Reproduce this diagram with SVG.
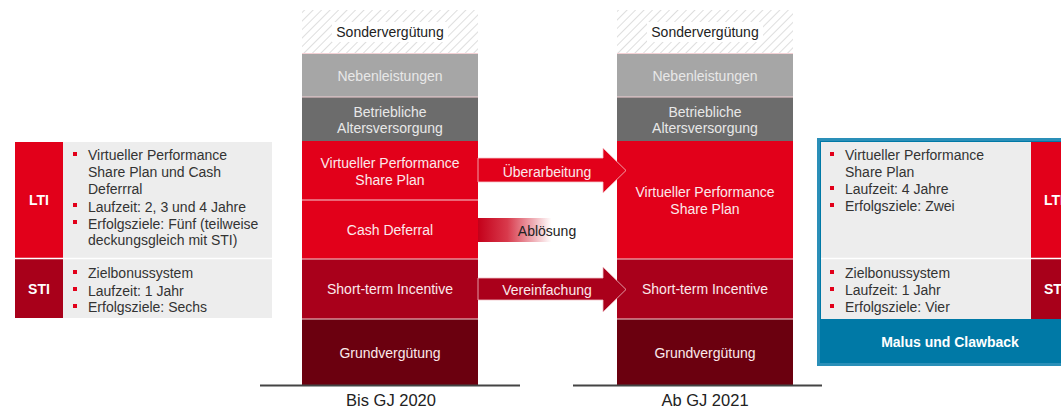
<svg xmlns="http://www.w3.org/2000/svg" width="1061" height="410" viewBox="0 0 1061 410">
  <style>
    text { font-family: "Liberation Sans", Arial, sans-serif; }
    .seg { font-size: 14px; fill: #fbe9eb; text-anchor: middle; }
    .gseg { font-size: 14px; fill: #e8e8e8; text-anchor: middle; }
    .dark { font-size: 14px; fill: #222; text-anchor: middle; }
    .bul { font-size: 14px; fill: #333; }
    .tag { font-size: 14px; font-weight: bold; fill: #fff; text-anchor: middle; }
    .tag.edge { text-anchor: start; }
    .axis { font-size: 16.5px; fill: #222; text-anchor: middle; }
    .sep { stroke: #f3d0d4; stroke-width: 1; }
  </style>
  <defs>
    <pattern id="hatch" width="6" height="6" patternUnits="userSpaceOnUse" patternTransform="rotate(45)">
      <rect width="6" height="6" fill="#ffffff"/>
      <line x1="0" y1="0" x2="0" y2="6" stroke="#d4d4d4" stroke-width="1.5"/>
    </pattern>
    <linearGradient id="fade" x1="0" y1="0" x2="1" y2="0">
      <stop offset="0" stop-color="#c4001a"/>
      <stop offset="0.3" stop-color="#d83a4c"/>
      <stop offset="0.75" stop-color="#ffffff"/>
      <stop offset="1" stop-color="#ffffff"/>
    </linearGradient>
  </defs>

  <!-- left info panel -->
  <g id="info-left">
    <rect x="63" y="142" width="209" height="176" fill="#ededed"/>
    <rect x="15" y="142" width="48" height="116" fill="#e2001a"/>
    <rect x="15" y="258" width="48" height="60" fill="#a8001a"/>
    <line x1="15" y1="258.5" x2="272" y2="258.5" stroke="#ffffff" stroke-width="1.5"/>
    <text class="tag" x="39" y="205">LTI</text>
    <text class="tag" x="39" y="293.5">STI</text>
    <g fill="#e2001a">
      <rect x="73" y="152" width="4" height="4"/>
      <rect x="73" y="203" width="4" height="4"/>
      <rect x="73" y="220" width="4" height="4"/>
      <rect x="73" y="270" width="4" height="4"/>
      <rect x="73" y="287" width="4" height="4"/>
      <rect x="73" y="304" width="4" height="4"/>
    </g>
    <text class="bul" x="88" y="160">Virtueller Performance</text>
    <text class="bul" x="88" y="177">Share Plan und Cash</text>
    <text class="bul" x="88" y="193.5">Deferrral</text>
    <text class="bul" x="88" y="212">Laufzeit: 2, 3 und 4 Jahre</text>
    <text class="bul" x="88" y="228.5">Erfolgsziele: Fünf (teilweise</text>
    <text class="bul" x="88" y="245">deckungsgleich mit STI)</text>
    <text class="bul" x="88" y="278">Zielbonussystem</text>
    <text class="bul" x="88" y="295.5">Laufzeit: 1 Jahr</text>
    <text class="bul" x="88" y="312">Erfolgsziele: Sechs</text>
  </g>

  <!-- column until 2020 -->
  <g id="col-2020">
    <rect x="302" y="10" width="176" height="43" fill="url(#hatch)"/>
    <rect x="332" y="22" width="116" height="20" fill="#ffffff"/>
    <text class="dark" x="390" y="37">Sondervergütung</text>
    <rect x="302" y="53" width="176" height="44" fill="#a6a6a6"/>
    <text class="gseg" x="390" y="81">Nebenleistungen</text>
    <rect x="302" y="97" width="176" height="44" fill="#6c6c6c"/>
    <text class="gseg" x="390" y="117">Betriebliche</text>
    <text class="gseg" x="390" y="133">Altersversorgung</text>
    <rect x="302" y="141" width="176" height="59" fill="#e2001a"/>
    <text class="seg" x="390" y="168">Virtueller Performance</text>
    <text class="seg" x="390" y="184.5">Share Plan</text>
    <rect x="302" y="200" width="176" height="59" fill="#e2001a"/>
    <text class="seg" x="390" y="235">Cash Deferral</text>
    <rect x="302" y="259" width="176" height="60" fill="#a9001b"/>
    <text class="seg" x="390" y="294">Short-term Incentive</text>
    <rect x="302" y="319" width="176" height="66" fill="#6b000f"/>
    <text class="seg" x="390" y="358">Grundvergütung</text>
    <line class="sep" x1="302" y1="53.5" x2="478" y2="53.5" stroke="#c8c8c8"/>
    <line class="sep" x1="302" y1="97" x2="478" y2="97" stroke="#bdbdbd"/>
    <line class="sep" x1="302" y1="200" x2="478" y2="200"/>
    <line class="sep" x1="302" y1="259" x2="478" y2="259"/>
    <line class="sep" x1="302" y1="319" x2="478" y2="319"/>
    <line x1="260" y1="385.5" x2="520" y2="385.5" stroke="#444" stroke-width="2"/>
    <text class="axis" x="391" y="406">Bis GJ 2020</text>
  </g>

  <!-- column from 2021 -->
  <g id="col-2021">
    <rect x="617" y="10" width="176" height="43" fill="url(#hatch)"/>
    <rect x="647" y="22" width="116" height="20" fill="#ffffff"/>
    <text class="dark" x="705" y="37">Sondervergütung</text>
    <rect x="617" y="53" width="176" height="44" fill="#a6a6a6"/>
    <text class="gseg" x="705" y="81">Nebenleistungen</text>
    <rect x="617" y="97" width="176" height="44" fill="#6c6c6c"/>
    <text class="gseg" x="705" y="117">Betriebliche</text>
    <text class="gseg" x="705" y="133">Altersversorgung</text>
    <rect x="617" y="141" width="176" height="118" fill="#e2001a"/>
    <text class="seg" x="705" y="197">Virtueller Performance</text>
    <text class="seg" x="705" y="214">Share Plan</text>
    <rect x="617" y="259" width="176" height="60" fill="#a9001b"/>
    <text class="seg" x="705" y="294">Short-term Incentive</text>
    <rect x="617" y="319" width="176" height="66" fill="#6b000f"/>
    <text class="seg" x="705" y="358">Grundvergütung</text>
    <line class="sep" x1="617" y1="53.5" x2="793" y2="53.5" stroke="#c8c8c8"/>
    <line class="sep" x1="617" y1="97" x2="793" y2="97" stroke="#bdbdbd"/>
    <line class="sep" x1="617" y1="259" x2="793" y2="259"/>
    <line class="sep" x1="617" y1="319" x2="793" y2="319"/>
    <line x1="573" y1="385.5" x2="822" y2="385.5" stroke="#444" stroke-width="2"/>
    <text class="axis" x="705" y="406">Ab GJ 2021</text>
  </g>

  <!-- transitions between the two columns -->
  <g id="connectors">
    <polygon points="478,158 603,158 603,148 626,170.5 603,193 603,182 478,182" fill="#e2001a" stroke="#f6c6cc" stroke-width="0.8"/>
    <text class="seg" x="547" y="176.5" fill="#ffffff">Überarbeitung</text>
    <rect x="478" y="218" width="98" height="24" fill="url(#fade)"/>
    <text class="dark" x="547" y="235.5" fill="#333">Ablösung</text>
    <polygon points="478,278 603,278 603,267 626,289.5 603,312 603,300 478,300" fill="#aa001b" stroke="#f0c0c6" stroke-width="0.8"/>
    <text class="seg" x="547" y="294.5" fill="#ffffff">Vereinfachung</text>
  </g>

  <!-- right info panel (runs past the right edge) -->
  <g id="info-right">
    <rect x="818.5" y="139.5" width="250" height="225" fill="#0079a6" stroke="#2a8fb8" stroke-width="3"/>
    <rect x="821" y="142" width="210" height="177" fill="#ededed"/>
    <rect x="1031" y="142" width="40" height="116" fill="#e2001a"/>
    <rect x="1031" y="258" width="40" height="61" fill="#a8001a"/>
    <line x1="821" y1="258.5" x2="1061" y2="258.5" stroke="#ffffff" stroke-width="1.5"/>
    <text class="tag edge" x="1044" y="205">LTI</text>
    <text class="tag edge" x="1044" y="293.5">STI</text>
    <g fill="#e2001a">
      <rect x="830" y="152" width="4" height="4"/>
      <rect x="830" y="186" width="4" height="4"/>
      <rect x="830" y="203" width="4" height="4"/>
      <rect x="830" y="270" width="4" height="4"/>
      <rect x="830" y="287" width="4" height="4"/>
      <rect x="830" y="304" width="4" height="4"/>
    </g>
    <text class="bul" x="845" y="160">Virtueller Performance</text>
    <text class="bul" x="845" y="176.5">Share Plan</text>
    <text class="bul" x="845" y="193.5">Laufzeit: 4 Jahre</text>
    <text class="bul" x="845" y="210.5">Erfolgsziele: Zwei</text>
    <text class="bul" x="845" y="278">Zielbonussystem</text>
    <text class="bul" x="845" y="295">Laufzeit: 1 Jahr</text>
    <text class="bul" x="845" y="311.5">Erfolgsziele: Vier</text>
    <text class="tag" x="950" y="346.5">Malus und Clawback</text>
  </g>
</svg>
